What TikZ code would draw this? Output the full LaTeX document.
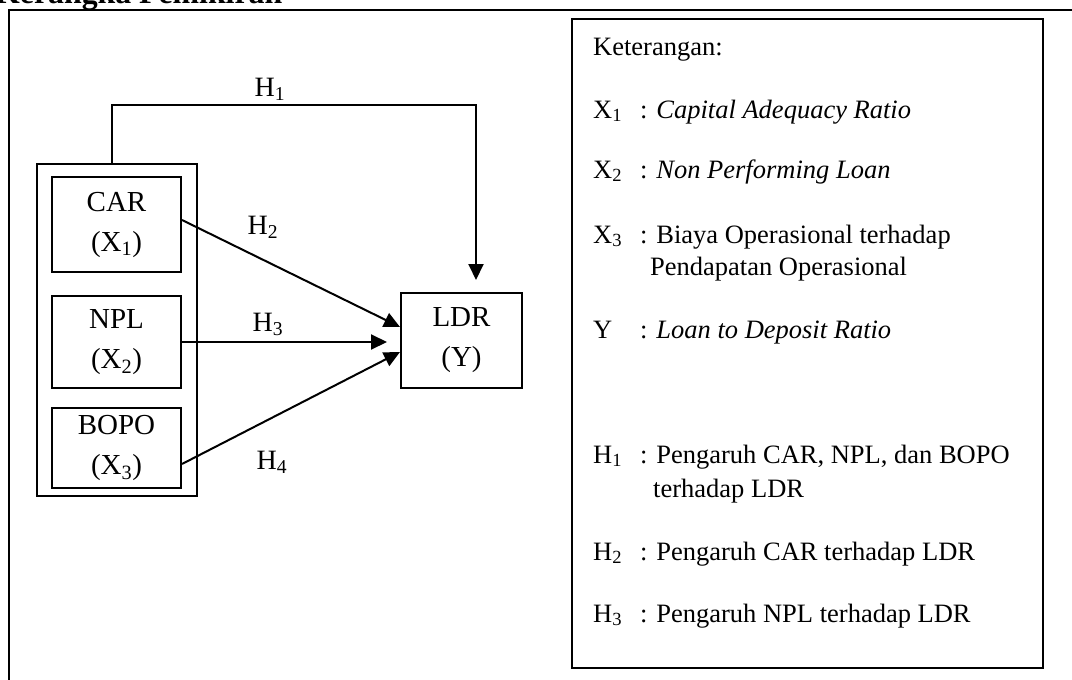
\documentclass[tikz,border=0pt]{standalone}
\usepackage{fontspec}
\setmainfont{Liberation Serif}
\usetikzlibrary{arrows.meta}
\tikzset{
  varbox/.style={draw, line width=2pt, minimum width=129pt, minimum height=95pt,
    align=center, inner sep=0pt, font=\fontsize{29}{40}\selectfont},
  arr/.style={line width=2pt, -{Triangle[length=16pt,width=15pt]}},
  hlabel/.style={font=\fontsize{28}{32}\selectfont, inner sep=0pt, anchor=base},
  legtxt/.style={font=\fontsize{26.5}{32}\selectfont, inner sep=0pt, anchor=base west}
}

\begin{document}
\begin{tikzpicture}[x=1pt,y=-1pt]
	\useasboundingbox (0,0) rectangle (1072,680);
	\clip (0,0) rectangle (1072,680);
	% judul, terpotong di tepi atas
	\node[font=\fontsize{31.8}{36}\selectfont\bfseries, anchor=base west, inner sep=0pt] (judul) at (-5,3) {Kerangka Pemikiran};
	\draw [line width=2pt] (9,10) rectangle (1100,700);

	% variabel independen dan dependen
	\node[draw, line width=2pt, minimum width=160pt, minimum height=332pt] (grp) at (117,330) {};
	\node[varbox] (car) at (116.5,224.5) {CAR\\(X\textsubscript{1})};
	\node[varbox, minimum height=92pt] (npl) at (116.5,342) {NPL\\(X\textsubscript{2})};
	\node[varbox, minimum height=80pt] (bopo) at (116.5,448) {BOPO\\(X\textsubscript{3})};
	\node[varbox, minimum width=121pt] (ldr) at (461.5,340.5) {LDR\\(Y)};

	% hipotesis
	\coordinate (h1top) at (476,105);
	\coordinate (h1end) at (476,280);
	\coordinate (h3end) at ([xshift=-13pt]ldr.west);
	\draw[arr] ([xshift=-5pt]grp.north) |- (h1top) -- (h1end);
	\draw[arr] ([yshift=4.5pt]car.east) -- ([yshift=13.5pt]ldr.west);
	\draw[arr] (npl.east) -- (npl.east -| h3end);
	\draw[arr] ([yshift=-16pt]bopo.east) -- ([yshift=-11.5pt]ldr.west);
	\node[hlabel] (h1) at (270,96) {H\textsubscript{1}};
	\node[hlabel] (h2) at (263,234) {H\textsubscript{2}};
	\node[hlabel] (h3) at (268,331) {H\textsubscript{3}};
	\node[hlabel] (h4) at (272,469) {H\textsubscript{4}};

	% keterangan
	\node[draw, line width=2pt, minimum width=471pt, minimum height=649pt] (leg) at (807.5,343.5) {};
	\node[legtxt] (ket) at (593,55) {Keterangan:};
	\foreach \yy/\sym/\txt [count=\i] in {118/X\textsubscript{1}/\textit{Capital Adequacy Ratio},
		178/X\textsubscript{2}/\textit{Non Performing Loan},
		243/X\textsubscript{3}/Biaya Operasional terhadap,
		338/Y/\textit{Loan to Deposit Ratio},
		463/H\textsubscript{1}/{Pengaruh CAR, NPL, dan BOPO},
		560/H\textsubscript{2}/Pengaruh CAR terhadap LDR,
		622/H\textsubscript{3}/Pengaruh NPL terhadap LDR}{
		\node[legtxt] (sym\i) at (593,\yy) {\sym};
		\node[legtxt] (isi\i) at (640,\yy) {: \txt};
	}
	\node[legtxt] (isi3b) at (650,275) {Pendapatan Operasional};
	\node[legtxt] (isi5b) at (653,497) {terhadap LDR};
\end{tikzpicture}
\end{document}
